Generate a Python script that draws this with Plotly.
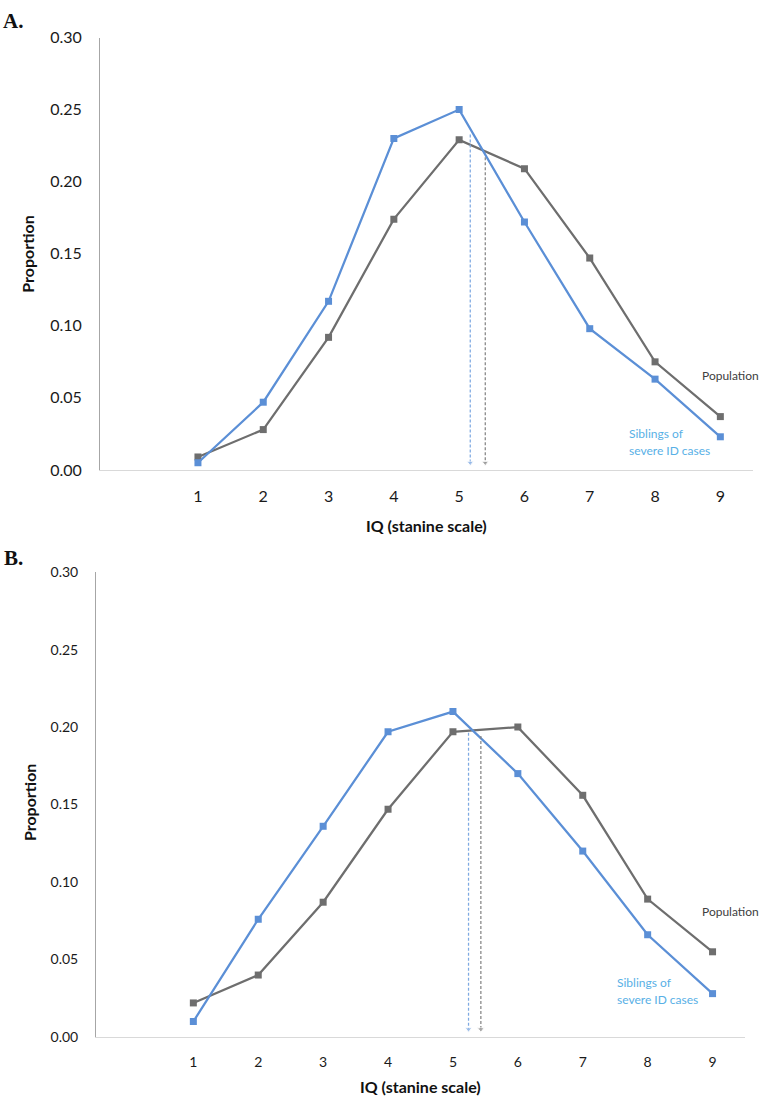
import numpy as np
import plotly.graph_objs as go

# data
stanine = [1, 2, 3, 4, 5, 6, 7, 8, 9]

sib_a = [0.005, 0.047, 0.117, 0.230, 0.250, 0.172, 0.098, 0.063, 0.023]
pop_a = [0.009, 0.028, 0.092, 0.174, 0.229, 0.209, 0.147, 0.075, 0.037]
mean_sib_a = 5.17
mean_pop_a = 5.40

sib_b = [0.010, 0.076, 0.136, 0.197, 0.210, 0.170, 0.120, 0.066, 0.028]
pop_b = [0.022, 0.040, 0.087, 0.147, 0.197, 0.200, 0.156, 0.089, 0.055]
mean_sib_b = 5.24
mean_pop_b = 5.43

y_ticks = [0.0, 0.05, 0.10, 0.15, 0.20, 0.25, 0.30]

W, H = 762, 1104
BLUE = '#5b8fd6'
GRAY = '#6e6e6e'
BLUE_ARROW = '#7ea9e2'
GRAY_ARROW = '#858585'
LABEL_BLUE = '#58b0e6'
FONT = 'Lato'


def fx(x):
    return x / W


def fy(y):
    return 1 - y / H


def series(x, y, color, xa, ya):
    return go.Scatter(
        x=x, y=y, xaxis=xa, yaxis=ya,
        mode='lines+markers',
        line=dict(color=color, width=2.25),
        marker=dict(symbol='square', size=7, color=color),
        showlegend=False, hoverinfo='skip')


def mean_arrow(m, curve, color, xa, ya):
    top = float(np.interp(m, stanine, curve)) - 0.004
    return go.Scatter(
        x=[m, m], y=[top, 0.005], xaxis=xa, yaxis=ya,
        mode='lines+markers',
        line=dict(color=color, width=1.25, dash='3px,2px'),
        marker=dict(symbol='triangle-down', size=[0, 6], color=color),
        showlegend=False, hoverinfo='skip')


traces = [
    series(stanine, pop_a, GRAY, 'x', 'y'),
    series(stanine, sib_a, BLUE, 'x', 'y'),
    mean_arrow(mean_sib_a, sib_a, BLUE_ARROW, 'x', 'y'),
    mean_arrow(mean_pop_a, pop_a, GRAY_ARROW, 'x', 'y'),
    series(stanine, pop_b, GRAY, 'x2', 'y2'),
    series(stanine, sib_b, BLUE, 'x2', 'y2'),
    mean_arrow(mean_sib_b, sib_b, BLUE_ARROW, 'x2', 'y2'),
    mean_arrow(mean_pop_b, pop_b, GRAY_ARROW, 'x2', 'y2'),
]


def xaxis(domain, anchor, size):
    return dict(domain=domain, anchor=anchor, range=[-0.5, 9.5],
                tickvals=stanine, ticktext=[str(s) for s in stanine],
                showgrid=False, zeroline=False, showline=True,
                linecolor='#d9d9d9', linewidth=1, ticks='',
                ticklabelstandoff=12,
                tickfont=dict(family=FONT, size=size, color='#1a1a1a'))


def yaxis(domain, anchor, size):
    return dict(domain=domain, anchor=anchor, range=[0, 0.30],
                tickvals=y_ticks, ticktext=['%.2f' % v for v in y_ticks],
                showgrid=False, zeroline=False, showline=True,
                linecolor='#a6a6a6', linewidth=1, ticks='',
                ticklabelstandoff=14,
                tickfont=dict(family=FONT, size=size, color='#1a1a1a'))


def text(x, y, s, color, size=12, bold=False, angle=0, xanchor='left', family=FONT):
    return dict(x=fx(x), y=fy(y), xref='paper', yref='paper',
                text='<b>%s</b>' % s if bold else s, showarrow=False,
                xanchor=xanchor, yanchor='middle', textangle=angle,
                font=dict(family=family, size=size, color=color))


annotations = [
    text(1, 11, 'A.', '#111111', size=21, bold=True, family='Liberation Serif'),
    text(2, 558, 'B.', '#111111', size=21, bold=True, family='Liberation Serif'),
    text(28, 249, 'Proportion', '#111111', size=16, bold=True, angle=-90, xanchor='center'),
    text(29, 807, 'Proportion', '#111111', size=16, bold=True, angle=-90, xanchor='center'),
    text(426, 525, 'IQ (stanine scale)', '#111111', size=16, bold=True, xanchor='center'),
    text(420, 1095, 'IQ (stanine scale)', '#111111', size=16, bold=True, xanchor='center'),
    text(761, 372, 'Population', '#404040', xanchor='right'),
    text(627, 431, 'Siblings of', LABEL_BLUE),
    text(627, 448, 'severe ID cases', LABEL_BLUE),
    text(761, 917, 'Population', '#404040', xanchor='right'),
    text(615, 990, 'Siblings of', LABEL_BLUE),
    text(615, 1007, 'severe ID cases', LABEL_BLUE),
]

layout = go.Layout(
    width=W, height=H,
    margin=dict(l=0, r=0, t=0, b=0),
    paper_bgcolor='white', plot_bgcolor='white',
    xaxis=xaxis([fx(100), fx(753)], 'y', 16),
    yaxis=yaxis([fy(468), fy(28)], 'x', 16),
    xaxis2=xaxis([fx(96), fx(745)], 'y2', 14),
    yaxis2=yaxis([fy(1045), fy(572)], 'x2', 14),
    annotations=annotations,
)

fig = go.Figure(data=traces, layout=layout)
# page margin off so the 762x1104 figure fills the window exactly
fig.write_html("out.html", config={'displayModeBar': False},
               post_script="document.body.style.margin='0';document.body.style.overflow='hidden';")
